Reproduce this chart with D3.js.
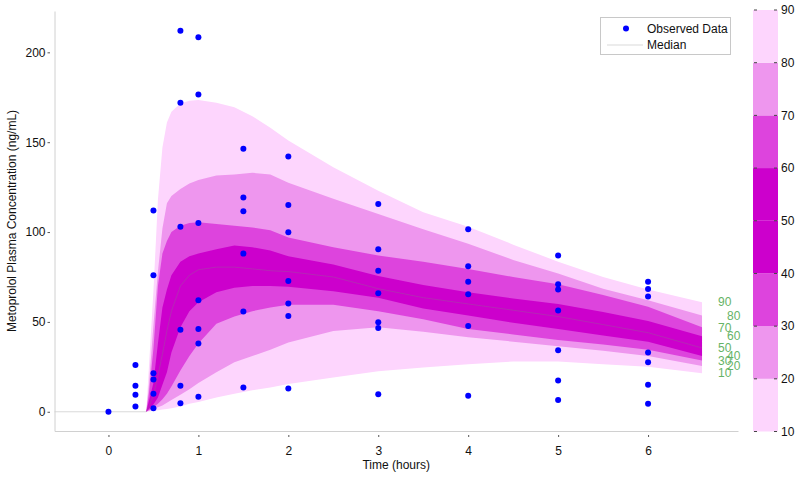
<!DOCTYPE html>
<html>
<head>
<meta charset="utf-8">
<script src="https://cdn.jsdelivr.net/npm/d3@7/dist/d3.min.js"></script>
<style>
  html, body { margin: 0; padding: 0; background: #fff; }
  svg { display: block; font-family: Arial, "Liberation Sans", sans-serif; }
</style>
</head>
<body>
<svg id="chart" width="800" height="478"></svg>
<script>
// ---------------- data ----------------
const simTime = [-0.6, 0.42, 0.45, 0.5, 0.55, 0.6, 0.65, 0.7, 0.8, 0.9, 1.0, 1.2, 1.4, 1.6, 1.8, 2.0, 2.5, 3.0, 3.5, 4.0, 4.5, 5.0, 5.5, 6.0, 6.6];
const p90 = [0, 0, 25, 67, 118, 147, 161, 167, 171.5, 173, 173.5, 172, 169.5, 164.5, 158, 151, 136, 123, 111, 103, 93, 83.5, 75, 68, 61];
const p80 = [0, 0, 15, 48, 78, 102, 116, 120, 124, 127, 129, 131.5, 132, 133, 132, 127.5, 118.5, 110, 101.5, 93.5, 84.5, 77, 68.5, 62, 53.5];
const p70 = [0, 0, 10, 35, 70, 88, 95, 100, 103.5, 105, 105.5, 104.5, 103.5, 102.5, 101, 97, 91.5, 87, 83.5, 79.5, 75, 71, 65, 58.5, 47];
const p60 = [0, 0, 6, 16, 38, 58, 68, 76, 83.5, 86.5, 88, 90.5, 92.5, 91.5, 89.7, 86.5, 82, 75.5, 70.5, 66.5, 63, 60, 55.5, 50.5, 42];
const p50 = [0, 0, 3, 9, 20, 32, 45, 56, 70, 76, 79, 80.5, 80.5, 79.5, 78.5, 78, 75, 68.5, 63.5, 60, 56.5, 53, 48.5, 44, 35.5];
const p40 = [0, 0, 1.5, 4, 8, 15, 22, 33, 47, 56, 61, 66.5, 69, 70, 70, 69.5, 67, 63.5, 57.5, 53.5, 49.5, 46, 42.5, 39, 31];
const p30 = [0, 0, 1, 2.5, 4.5, 7, 10, 14, 23, 31, 38, 49, 53, 56, 58, 59.5, 59.5, 56, 51.5, 46, 43, 40, 37.5, 34.5, 28.5];
const p20 = [0, 0, 0.5, 1.5, 2.5, 3.5, 5, 6.5, 9.5, 12.5, 16, 22, 27.5, 31, 34.5, 38.5, 45, 47, 44.5, 41.5, 39, 36.5, 34, 31, 25.5];
const p10 = [0, 0, 0.2, 0.5, 0.8, 1.2, 1.6, 2, 3, 4.5, 5.5, 8, 10, 12, 13.5, 15.5, 19, 22.5, 24.7, 26.5, 28, 28, 26.5, 25, 21.5];

const obsTime = [0, 0.3, 0.3, 0.3, 0.3, 0.5, 0.5, 0.5, 0.5, 0.5, 0.5,
  0.8, 0.8, 0.8, 0.8, 0.8, 0.8, 1, 1, 1, 1, 1, 1, 1,
  1.5, 1.5, 1.5, 1.5, 1.5, 1.5, 2, 2, 2, 2, 2, 2, 2,
  3, 3, 3, 3, 3, 3, 3, 4, 4, 4, 4, 4, 4,
  5, 5, 5, 5, 5, 5, 5, 6, 6, 6, 6, 6, 6, 6];
const obsConc = [0, 26, 14.5, 9.5, 3, 112, 76, 21.5, 18, 10, 2,
  212, 172, 103, 45.7, 14.5, 4.8, 208.4, 176.6, 105, 62, 46, 38, 8.4,
  146.3, 119.2, 111.6, 88, 55.8, 13.5, 142, 115.1, 99.9, 72.8, 60.3, 53.3, 13,
  115.6, 90.4, 78.4, 65.9, 49.8, 46.6, 9.8, 101.6, 81, 72.4, 65.4, 47.7, 8.9,
  86.9, 70.9, 68, 56.3, 34.2, 17.4, 6.5, 72.4, 68.3, 64.2, 33, 27.5, 15, 4.4];

const xTicks = [0, 1, 2, 3, 4, 5, 6];
const yTicks = [0, 50, 100, 150, 200];
const pctLabels = ["90", "80", "70", "60", "50", "40", "30", "20", "10"];
const cbTicks = [10, 20, 30, 40, 50, 60, 70, 80, 90];
const cbColors = ["#fdd5fd", "#ee96ee", "#dd44dd", "#cc00cc", "#cc00cc", "#dd44dd", "#ee96ee", "#fdd5fd"];
const bandColors = ["#fdd5fd", "#ee96ee", "#dd44dd", "#cc00cc"];

// ---------------- drawing ----------------
const svg = d3.select("#chart");
const xs = d3.scaleLinear().domain([-0.6, 7]).range([54.5, 738]);
const ys = d3.scaleLinear().domain([-10.7, 223]).range([431, 11]);

// bands
const bandPairs = [[p10, p90], [p20, p80], [p30, p70], [p40, p60]];
const area = d3.area()
  .x((d, i) => xs(simTime[i]))
  .y0(d => ys(d[0]))
  .y1(d => ys(d[1]));
bandPairs.forEach((pair, k) => {
  const rows = simTime.map((t, i) => [pair[0][i], pair[1][i]]);
  svg.append("path").attr("d", area(rows)).attr("fill", bandColors[k]);
});

// median
const line = d3.line().x((d, i) => xs(simTime[i])).y(d => ys(d));
svg.append("path").attr("d", line(p50))
  .attr("fill", "none").attr("stroke", "#808080").attr("stroke-opacity", 0.3).attr("stroke-width", 1);

// axes
const axG = svg.append("g");
const xAxis = axG.append("g").attr("transform", `translate(0,${ys.range()[0]})`)
  .call(d3.axisBottom(xs).tickValues(xTicks).tickFormat(d3.format("d")).tickSizeOuter(0));
xAxis.select(".domain").attr("stroke", "#d0d0d0");
xAxis.selectAll(".tick line").attr("y1", 4).attr("y2", 6).attr("stroke", "#555");
xAxis.selectAll(".tick text").attr("y", 15).attr("font-size", 12).attr("fill", "#111").attr("font-family", "Arial, 'Liberation Sans', sans-serif");

const yAxis = axG.append("g").attr("transform", `translate(${xs.range()[0]},0)`)
  .call(d3.axisLeft(ys).tickValues(yTicks).tickSizeOuter(0));
yAxis.select(".domain").attr("stroke", "#d0d0d0");
yAxis.selectAll(".tick line").attr("x1", -7).attr("x2", -4.5).attr("stroke", "#555");
yAxis.selectAll(".tick text").attr("x", -9).attr("font-size", 12).attr("fill", "#111").attr("font-family", "Arial, 'Liberation Sans', sans-serif");

svg.append("text").attr("x", (xs(-0.6) + xs(7)) / 2).attr("y", 469)
  .attr("text-anchor", "middle").attr("font-size", 12).attr("fill", "#111").text("Time (hours)");
svg.append("text").attr("transform", `translate(16,${(ys.range()[0] + ys.range()[1]) / 2}) rotate(-90)`)
  .attr("text-anchor", "middle").attr("font-size", 12).attr("fill", "#111")
  .text("Metoprolol Plasma Concentration (ng/mL)");

// observed points
svg.append("g").selectAll("circle").data(obsConc).join("circle")
  .attr("cx", (d, i) => xs(obsTime[i])).attr("cy", d => ys(d))
  .attr("r", 3).attr("fill", "#0000ff");

// percentile labels at end
const endVals = [p90, p80, p70, p60, p50, p40, p30, p20, p10].map(a => a[a.length - 1]);
const tEnd = simTime[simTime.length - 1];
svg.append("g").selectAll("text").data(pctLabels).join("text")
  .attr("x", (d, i) => xs(tEnd) + (i % 2 === 0 ? 16 : 25))
  .attr("y", (d, i) => ys(endVals[i]))
  .attr("dy", "0.35em").attr("font-size", 12).attr("fill", "#66b366").text(d => d);

// colorbar
const cb = d3.scaleLinear().domain([10, 90]).range([431.5, 10]);
const cbX = 753, cbW = 25;
const cbG = svg.append("g");
cbG.selectAll("rect").data(cbColors).join("rect")
  .attr("x", cbX).attr("width", cbW)
  .attr("y", (d, i) => cb(cbTicks[i + 1]))
  .attr("height", (d, i) => cb(cbTicks[i]) - cb(cbTicks[i + 1]))
  .attr("fill", d => d);
const cbT = cbG.selectAll("g.t").data(cbTicks).join("g").attr("class", "t")
  .attr("transform", d => `translate(0,${cb(d)})`);
cbT.append("line").attr("x1", cbX + 1).attr("x2", cbX + 4).attr("stroke", "#444").attr("stroke-width", 1);
cbT.append("line").attr("x1", cbX + cbW - 4).attr("x2", cbX + cbW - 1).attr("stroke", "#444").attr("stroke-width", 1);
cbT.append("text").attr("x", cbX + cbW + 3).attr("dy", "0.35em").attr("font-size", 12).attr("fill", "#111").text(d => d);

// legend
const lg = svg.append("g");
lg.append("rect").attr("x", 600.5).attr("y", 17.5).attr("width", 130).attr("height", 37)
  .attr("fill", "#fff").attr("stroke", "#c8c8c8").attr("stroke-width", 1);
lg.append("circle").attr("cx", 626).attr("cy", 28.5).attr("r", 3).attr("fill", "#0000ff");
lg.append("text").attr("x", 647).attr("y", 28.5).attr("dy", "0.35em").attr("font-size", 12).attr("fill", "#111").text("Observed Data");
lg.append("line").attr("x1", 607).attr("x2", 643).attr("y1", 45).attr("y2", 45).attr("stroke", "#808080").attr("stroke-opacity", 0.3);
lg.append("text").attr("x", 647).attr("y", 45).attr("dy", "0.35em").attr("font-size", 12).attr("fill", "#111").text("Median");
</script>
</body>
</html>
